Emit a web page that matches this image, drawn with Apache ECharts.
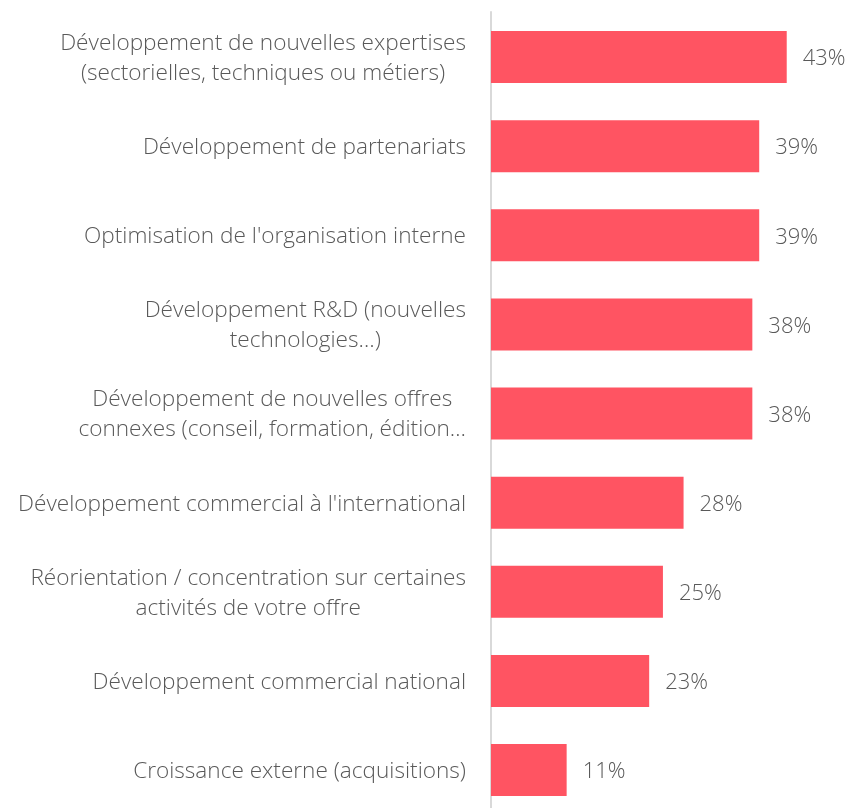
<!DOCTYPE html>
<html>
<head>
<meta charset="utf-8">
<script src="https://cdn.jsdelivr.net/npm/echarts@6/dist/echarts.min.js"></script>
<style>
  html, body { margin: 0; padding: 0; background: #fff; }
  #chart { width: 850px; height: 808px; }
</style>
</head>
<body>
<div id="chart"></div>
<script>
var categories = [
  'Développement de nouvelles expertises\n(sectorielles, techniques ou métiers)',
  'Développement de partenariats',
  "Optimisation de l'organisation interne",
  'Développement R&D (nouvelles\ntechnologies…)',
  'Développement de nouvelles offres\nconnexes (conseil, formation, édition…',
  "Développement commercial à l'international",
  'Réorientation / concentration sur certaines\nactivités de votre offre',
  'Développement commercial national',
  'Croissance externe (acquisitions)'
];
var values = [43, 39, 39, 38, 38, 28, 25, 23, 11];

var textColor = '#595959';
var fontFamily = "'Open Sans', 'Noto Sans', sans-serif";

var chart = echarts.init(document.getElementById('chart'));
chart.setOption({
  animation: false,
  grid: [
    // bars: categories sit on the ticks so spacing can exceed the page
    { left: 491, right: 0, top: 57, bottom: 38 },
    // only the vertical axis line, full height
    { left: 491, right: 0, top: 12, bottom: 0 }
  ],
  xAxis: [
    { gridIndex: 0, type: 'value', min: 0, max: 52.2, show: false },
    { gridIndex: 1, type: 'value', min: 0, max: 52.2, show: false }
  ],
  yAxis: [{
    gridIndex: 0,
    type: 'category',
    inverse: true,
    boundaryGap: false,
    data: categories,
    axisLine: { show: false },
    axisTick: { show: false },
    splitLine: { show: false },
    axisLabel: {
      margin: 25,
      align: 'right',
      padding: [3, 0, 0, 0],
      // each line centred inside the right-aligned block
      formatter: function (v) {
        return v.split('\n').map(function (s) { return '{t|' + s + '}'; }).join('\n');
      },
      rich: {
        t: {
          align: 'center',
          color: textColor,
          fontFamily: fontFamily,
          fontWeight: 300,
          fontSize: 22.6,
          lineHeight: 30
        }
      }
    }
  }, {
    gridIndex: 1,
    type: 'category',
    data: categories,
    axisLine: { show: true, lineStyle: { color: '#d9d9d9', width: 2 } },
    axisTick: { show: false },
    axisLabel: { show: false },
    splitLine: { show: false }
  }],
  series: [{
    type: 'bar',
    xAxisIndex: 0,
    yAxisIndex: 0,
    data: values,
    barWidth: 52,
    itemStyle: { color: '#FF5462' },
    label: {
      show: true,
      position: 'right',
      distance: 16,
      offset: [0, 2],
      color: textColor,
      fontFamily: fontFamily,
      fontWeight: 300,
      fontSize: 22,
      formatter: '{c}%'
    }
  }]
});
</script>
</body>
</html>
